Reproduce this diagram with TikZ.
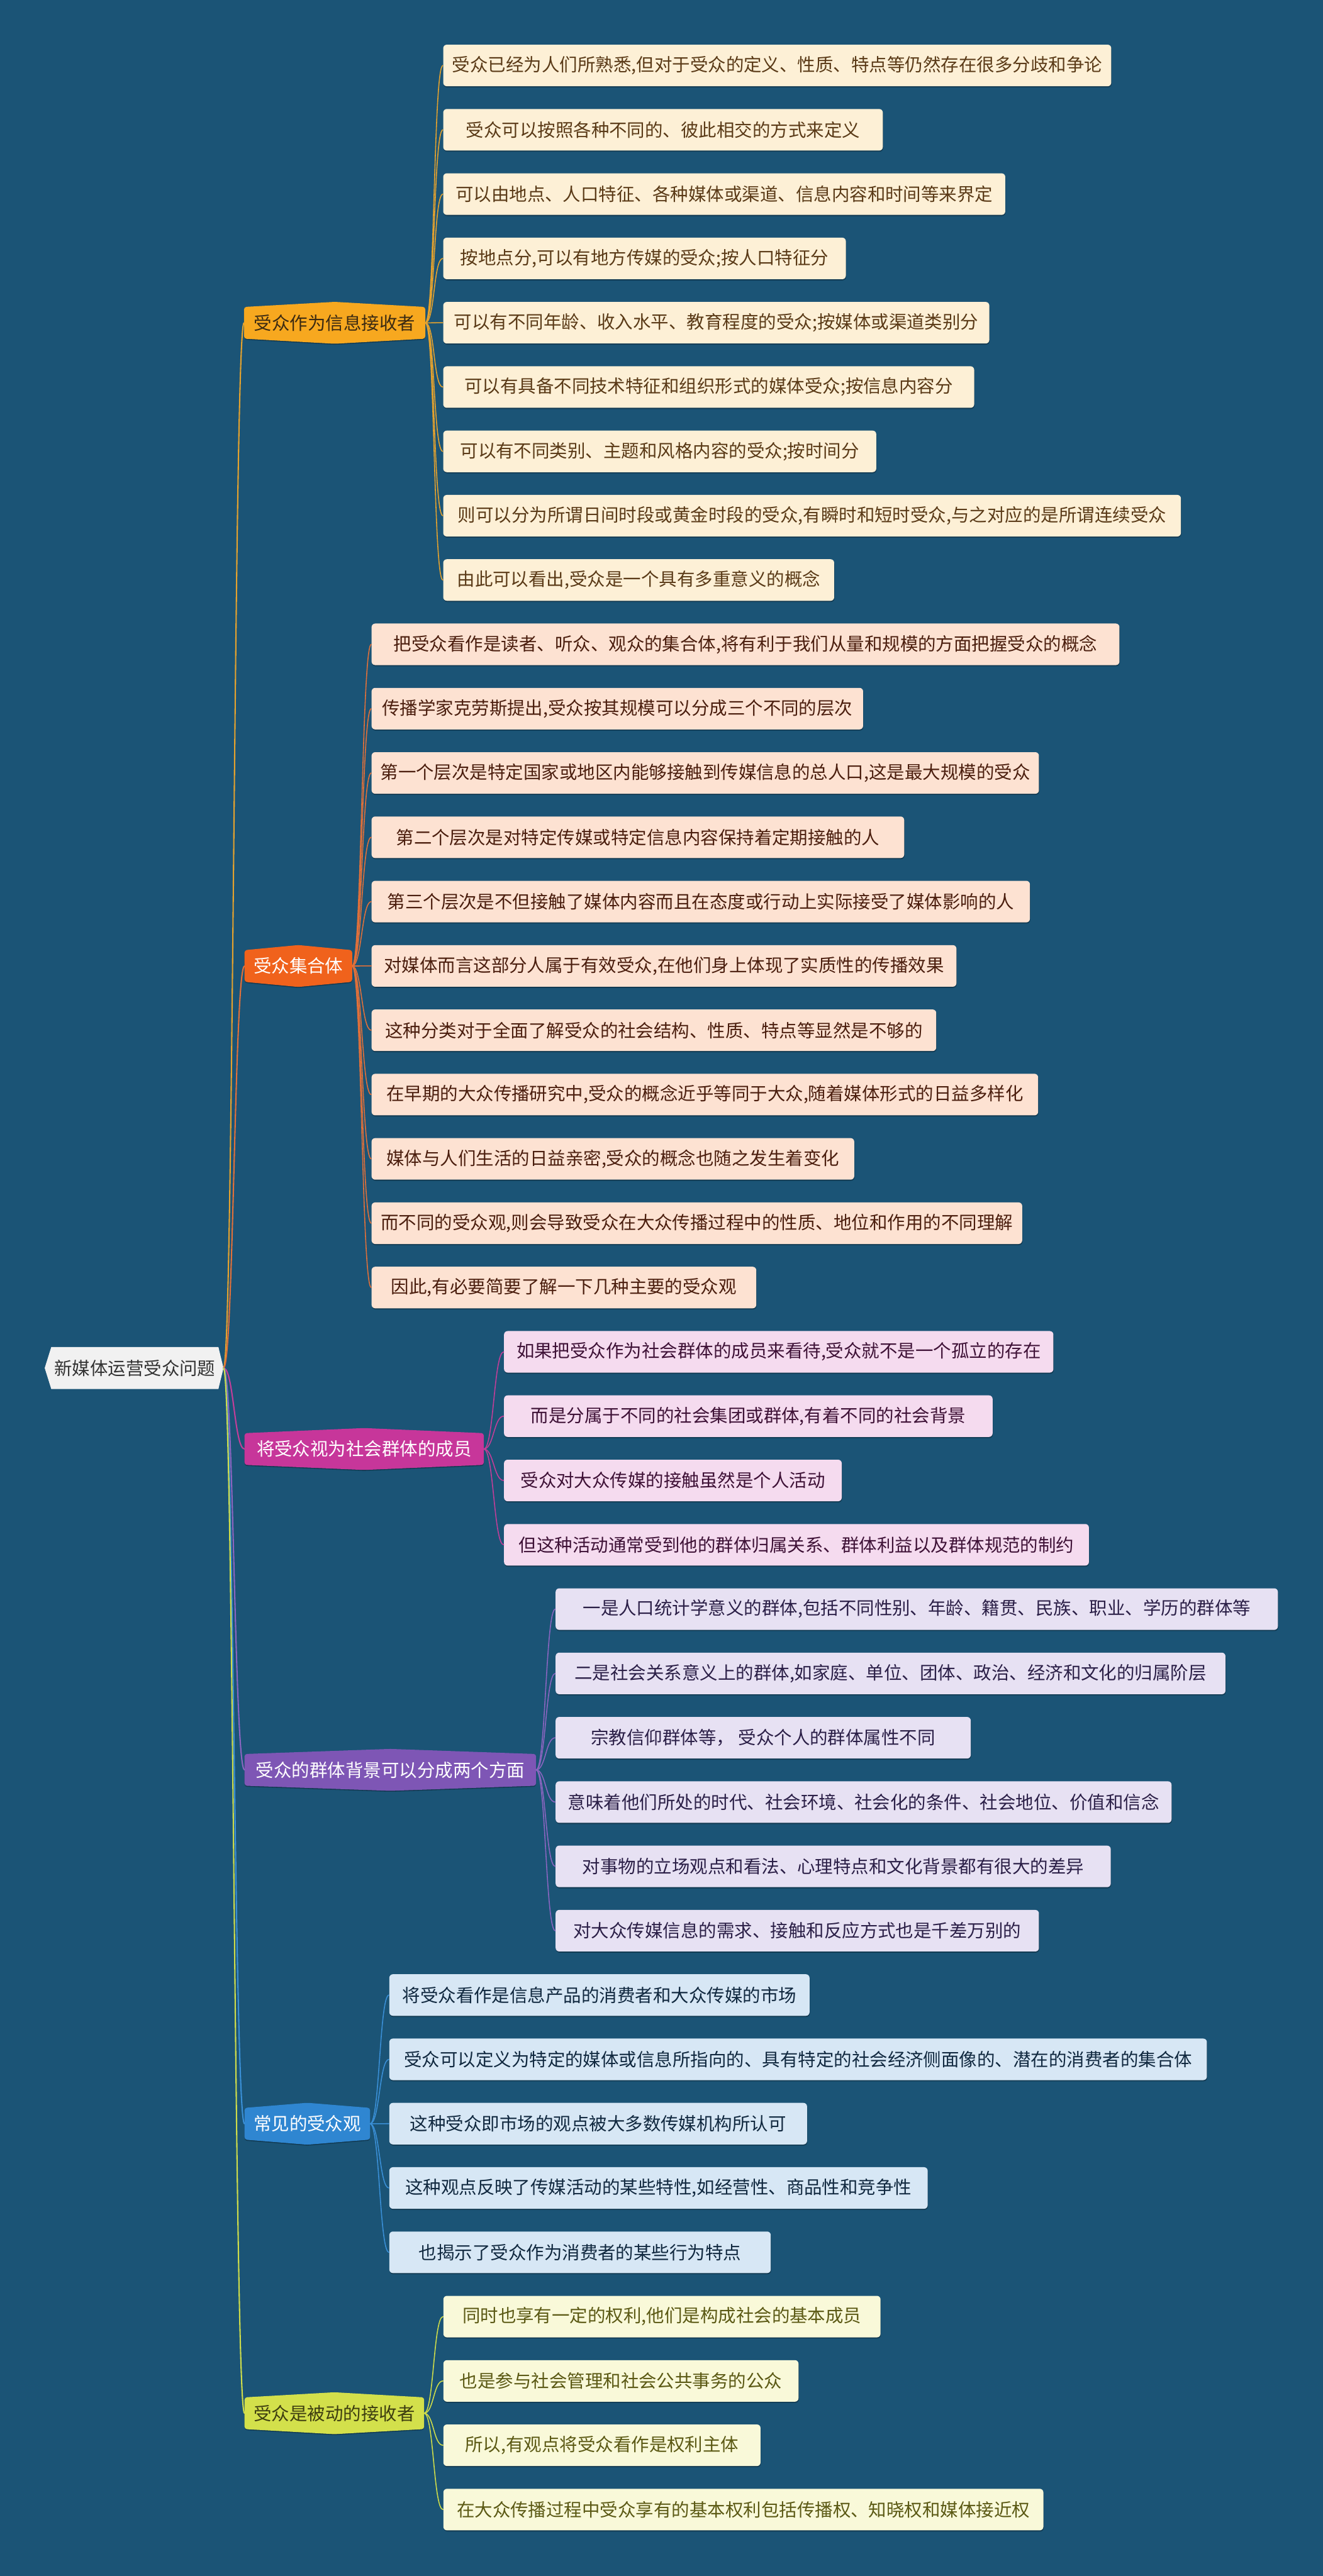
\documentclass[tikz,border=0pt]{standalone}
\usepackage{fontspec}
\newfontfamily\cjk{Noto Sans CJK SC}
\usetikzlibrary{shadows,backgrounds}
\pgfdeclarelayer{back}
\pgfsetlayers{back,background,main}

\definecolor{bgBlue}{HTML}{1B5476}
\definecolor{rootFill}{HTML}{F1F1F1}
\definecolor{rootInk}{HTML}{333333}
% one set of colours per topic
\definecolor{recvFill}{HTML}{F7A81F}\definecolor{recvInk}{HTML}{3B2A12}
\definecolor{recvLeaf}{HTML}{FDF0D6}\definecolor{recvText}{HTML}{5A3A17}\definecolor{recvLine}{HTML}{E4A22E}
\definecolor{crowdFill}{HTML}{F0621C}\definecolor{crowdInk}{HTML}{FFFFFF}
\definecolor{crowdLeaf}{HTML}{FDE2D2}\definecolor{crowdText}{HTML}{4B1E0E}\definecolor{crowdLine}{HTML}{E0703A}
\definecolor{groupFill}{HTML}{C7369A}\definecolor{groupInk}{HTML}{FFFFFF}
\definecolor{groupLeaf}{HTML}{F5DBEF}\definecolor{groupText}{HTML}{3E1136}\definecolor{groupLine}{HTML}{C23E99}
\definecolor{backgFill}{HTML}{7E56B5}\definecolor{backgInk}{HTML}{FFFFFF}
\definecolor{backgLeaf}{HTML}{E7E1F3}\definecolor{backgText}{HTML}{2B1F47}\definecolor{backgLine}{HTML}{8A65C0}
\definecolor{viewsFill}{HTML}{2F86D1}\definecolor{viewsInk}{HTML}{FFFFFF}
\definecolor{viewsLeaf}{HTML}{D7E7F5}\definecolor{viewsText}{HTML}{10283F}\definecolor{viewsLine}{HTML}{3A8FD6}
\definecolor{passFill}{HTML}{D3E04B}\definecolor{passInk}{HTML}{3D3D10}
\definecolor{passLeaf}{HTML}{F9F9D9}\definecolor{passText}{HTML}{5B5914}\definecolor{passLine}{HTML}{CEDC4A}

\tikzset{
  topic/.style={font=\cjk\fontsize{10.9}{13}\selectfont,inner sep=0pt,minimum height=18.9pt},
  leaf/.style={anchor=west,font=\cjk\fontsize{10.9}{13}\selectfont,inner sep=0pt,minimum height=25.3pt,
    rounded corners=2.2pt,drop shadow={shadow xshift=0.2pt,shadow yshift=-0.7pt,opacity=0.3,fill=black}},
  link/.style={line width=0.6pt,line cap=round},
  trunk/.style={line width=0.8pt,line cap=round},
}

\begin{document}
\begin{tikzpicture}[x=1pt,y=-1pt]
	\useasboundingbox (0,0) rectangle (805,1568);
	\begin{pgfonlayer}{back}
		\fill[bgBlue] (0,0) rectangle (805,1568);
	\end{pgfonlayer}

	% centre and topics
	\node[topic,text=rootInk,minimum width=101.3pt,minimum height=25.2pt] (root) at (82.05,832.7) {新媒体运营受众问题};
	\coordinate (rootTip) at ([xshift=3.1pt]root.east);
	\node[topic,anchor=west,text=recvInk,minimum width=109.9pt] (recv) at (148.5,196.5) {受众作为信息接收者};
	\node[topic,anchor=west,text=crowdInk,minimum width=65.1pt] (crowd) at (148.8,588) {受众集合体};
	\node[topic,anchor=west,text=groupInk,minimum width=145.2pt] (group) at (148.8,882) {将受众视为社会群体的成员};
	\node[topic,anchor=west,text=backgInk,minimum width=177pt] (backg) at (148.8,1077.3) {受众的群体背景可以分成两个方面};
	\node[topic,anchor=west,text=viewsInk,minimum width=76pt] (views) at (148.8,1292.7) {常见的受众观};
	\node[topic,anchor=west,text=passInk,minimum width=108.9pt] (pass) at (148.8,1468.9) {受众是被动的接收者};

	\begin{pgfonlayer}{background}
		\fill[rootFill] ([xshift=-4pt]root.west) -- (root.north west) -- (root.north east)
			-- (rootTip) -- (root.south east) -- (root.south west) -- cycle;
		\foreach \b in {recv,crowd,group,backg,views,pass}
			\fill[\b Fill,rounded corners=1.5pt,drop shadow={shadow xshift=0pt,shadow yshift=-0.6pt,opacity=0.3,fill=black}]
				(\b.north west) -- ([yshift=3.1pt]\b.north) -- (\b.north east) -- (\b.south east)
				-- ([yshift=-3.1pt]\b.south) -- (\b.south west) -- cycle;
	\end{pgfonlayer}

	\foreach \b in {recv,crowd,group,backg,views,pass}
		\draw[trunk,\b Line] (rootTip) .. controls +(6.2,0) and +(-6.2,0) .. (\b.west);

	% leaves, one row every 39.15pt
	\foreach \k/\w/\t [count=\i] in {
		0/406.5/{受众已经为人们所熟悉,但对于受众的定义、性质、特点等仍然存在很多分歧和争论},
		1/267.5/{受众可以按照各种不同的、彼此相交的方式来定义},
		2/342/{可以由地点、人口特征、各种媒体或渠道、信息内容和时间等来界定},
		3/245/{按地点分,可以有地方传媒的受众;按人口特征分},
		4/332.3/{可以有不同年龄、收入水平、教育程度的受众;按媒体或渠道类别分},
		5/323.1/{可以有具备不同技术特征和组织形式的媒体受众;按信息内容分},
		6/263.5/{可以有不同类别、主题和风格内容的受众;按时间分},
		7/448.9/{则可以分为所谓日间时段或黄金时段的受众,有瞬时和短时受众,与之对应的是所谓连续受众},
		8/237.9/{由此可以看出,受众是一个具有多重意义的概念}}{
		\node[leaf,fill=recvLeaf,text=recvText,minimum width=\w] (recv-\i) at (269.5,39.85+39.15*\k) {\t};
		\draw[link,recvLine] (recv.east) .. controls +(5.85,0) and +(-5.85,0) .. (recv-\i.west);
	}
	\foreach \k/\w/\t [count=\i] in {
		9/455.1/{把受众看作是读者、听众、观众的集合体,将有利于我们从量和规模的方面把握受众的概念},
		10/299.1/{传播学家克劳斯提出,受众按其规模可以分成三个不同的层次},
		11/406.1/{第一个层次是特定国家或地区内能够接触到传媒信息的总人口,这是最大规模的受众},
		12/324.1/{第二个层次是对特定传媒或特定信息内容保持着定期接触的人},
		13/400.6/{第三个层次是不但接触了媒体内容而且在态度或行动上实际接受了媒体影响的人},
		14/355.9/{对媒体而言这部分人属于有效受众,在他们身上体现了实质性的传播效果},
		15/343.6/{这种分类对于全面了解受众的社会结构、性质、特点等显然是不够的},
		16/405.6/{在早期的大众传播研究中,受众的概念近乎等同于大众,随着媒体形式的日益多样化},
		17/293.7/{媒体与人们生活的日益亲密,受众的概念也随之发生着变化},
		18/395.9/{而不同的受众观,则会导致受众在大众传播过程中的性质、地位和作用的不同理解},
		19/234.1/{因此,有必要简要了解一下几种主要的受众观}}{
		\node[leaf,fill=crowdLeaf,text=crowdText,minimum width=\w] (crowd-\i) at (225.9,39.85+39.15*\k) {\t};
		\draw[link,crowdLine] (crowd.east) .. controls +(5.85,0) and +(-5.85,0) .. (crowd-\i.west);
	}
	\foreach \k/\w/\t [count=\i] in {
		20/334.3/{如果把受众作为社会群体的成员来看待,受众就不是一个孤立的存在},
		21/297.3/{而是分属于不同的社会集团或群体,有着不同的社会背景},
		22/205.5/{受众对大众传媒的接触虽然是个人活动},
		23/355.9/{但这种活动通常受到他的群体归属关系、群体利益以及群体规范的制约}}{
		\node[leaf,fill=groupLeaf,text=groupText,minimum width=\w] (group-\i) at (306.5,39.85+39.15*\k) {\t};
		\draw[link,groupLine] (group.east) .. controls +(6,0) and +(-6,0) .. (group-\i.west);
	}
	\foreach \k/\w/\t [count=\i] in {
		24/439.5/{一是人口统计学意义的群体,包括不同性别、年龄、籍贯、民族、职业、学历的群体等},
		25/407.6/{二是社会关系意义上的群体,如家庭、单位、团体、政治、经济和文化的归属阶层},
		26/252.6/{宗教信仰群体等， 受众个人的群体属性不同},
		27/374.8/{意味着他们所处的时代、社会环境、社会化的条件、社会地位、价值和信念},
		28/337.8/{对事物的立场观点和看法、心理特点和文化背景都有很大的差异},
		29/294.1/{对大众传媒信息的需求、接触和反应方式也是千差万别的}}{
		\node[leaf,fill=backgLeaf,text=backgText,minimum width=\w] (backg-\i) at (337.9,39.85+39.15*\k) {\t};
		\draw[link,backgLine] (backg.east) .. controls +(5.9,0) and +(-5.9,0) .. (backg-\i.west);
	}
	\foreach \k/\w/\t [count=\i] in {
		30/255.7/{将受众看作是信息产品的消费者和大众传媒的市场},
		31/497.5/{受众可以定义为特定的媒体或信息所指向的、具有特定的社会经济侧面像的、潜在的消费者的集合体},
		32/254.2/{这种受众即市场的观点被大多数传媒机构所认可},
		33/327.6/{这种观点反映了传媒活动的某些特性,如经营性、商品性和竞争性},
		34/232.1/{也揭示了受众作为消费者的某些行为特点}}{
		\node[leaf,fill=viewsLeaf,text=viewsText,minimum width=\w] (views-\i) at (236.7,39.85+39.15*\k) {\t};
		\draw[link,viewsLine] (views.east) .. controls +(5.85,0) and +(-5.85,0) .. (views-\i.west);
	}
	\foreach \k/\w/\t [count=\i] in {
		35/266/{同时也享有一定的权利,他们是构成社会的基本成员},
		36/216.1/{也是参与社会管理和社会公共事务的公众},
		37/193/{所以,有观点将受众看作是权利主体},
		38/365.1/{在大众传播过程中受众享有的基本权利包括传播权、知晓权和媒体接近权}}{
		\node[leaf,fill=passLeaf,text=passText,minimum width=\w] (pass-\i) at (269.6,39.85+39.15*\k) {\t};
		\draw[link,passLine] (pass.east) .. controls +(5.85,0) and +(-5.85,0) .. (pass-\i.west);
	}
\end{tikzpicture}
\end{document}
